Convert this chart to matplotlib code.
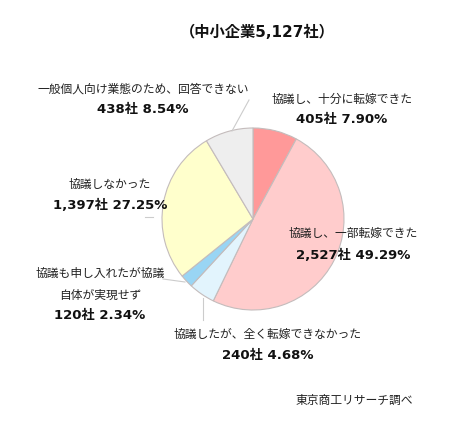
import numpy as np
import matplotlib
matplotlib.use("Agg")
import matplotlib.pyplot as plt

plt.rcParams['font.family'] = ['Noto Sans CJK JP', 'DejaVu Sans']

# data
labels = ["協議し、十分に転嫁できた", "協議し、一部転嫁できた",
          "協議したが、全く転嫁できなかった", "協議も申し入れたが協議\n自体が実現せず",
          "協議しなかった", "一般個人向け業態のため、回答できない"]
counts = [405, 2527, 240, 120, 1397, 438]
shares = [7.90, 49.29, 4.68, 2.34, 27.25, 8.54]
colours = ["#FF9999", "#FFCCCC", "#E2F4FD", "#99D5F4", "#FFFFCC", "#EEEEEE"]
title = "（中小企業5,127社）"
source = "東京商工リサーチ調べ"

W, H = 472, 427
fig = plt.figure(figsize=(W / 100, H / 100), dpi=100)
ax = fig.add_axes([0, 0, 1, 1])
ax.axis('off')

cx, cy, r = 253, H - 220, 91
wedges, _ = ax.pie(shares, colors=colours, startangle=90, counterclock=False,
                   center=(cx, cy), radius=r,
                   wedgeprops=dict(edgecolor="#c4bcbc", linewidth=0.8))
ax.set_xlim(0, W)
ax.set_ylim(0, H)
ax.set_aspect('equal')

# label positions (pixel coords, top-left origin): first name line, number line
pos = [(342, 99, 119), (353, 233, 255), (268, 334, 356),
       (100, 273, 316), (110, 184, 205), (143, 89, 109)]

for i, (x, yn, yv) in enumerate(pos):
    for k, line in enumerate(labels[i].split("\n")):
        ax.text(x, H - yn - 22 * k, line, ha='center', va='center', fontsize=8.5,
                color='#222222')
    ax.text(x, H - yv, f"{counts[i]:,}社 {shares[i]:.2f}%", ha='center', va='center',
            fontsize=9.5, fontweight='bold', color='#111111',
            family=['DejaVu Sans', 'Noto Sans CJK JP'])

# leader lines
lc = "#cccccc"
ax.plot([232, 249], [H - 132, H - 101], color=lc, lw=0.8)
ax.plot([145, 153], [H - 218, H - 218], color=lc, lw=0.8)
ax.plot([163, 185], [H - 280, H - 283], color=lc, lw=0.8)
ax.plot([203, 203], [H - 299, H - 321], color=lc, lw=0.8)

ax.text(257, H - 32, title, ha='center', va='center', fontsize=11,
        fontweight='bold', color='#111111',
        family=['DejaVu Sans', 'Noto Sans CJK JP'])
ax.text(354, H - 400, source, ha='center', va='center', fontsize=8.5, color='#222222')

fig.savefig("out.png", dpi=100, facecolor='white')
